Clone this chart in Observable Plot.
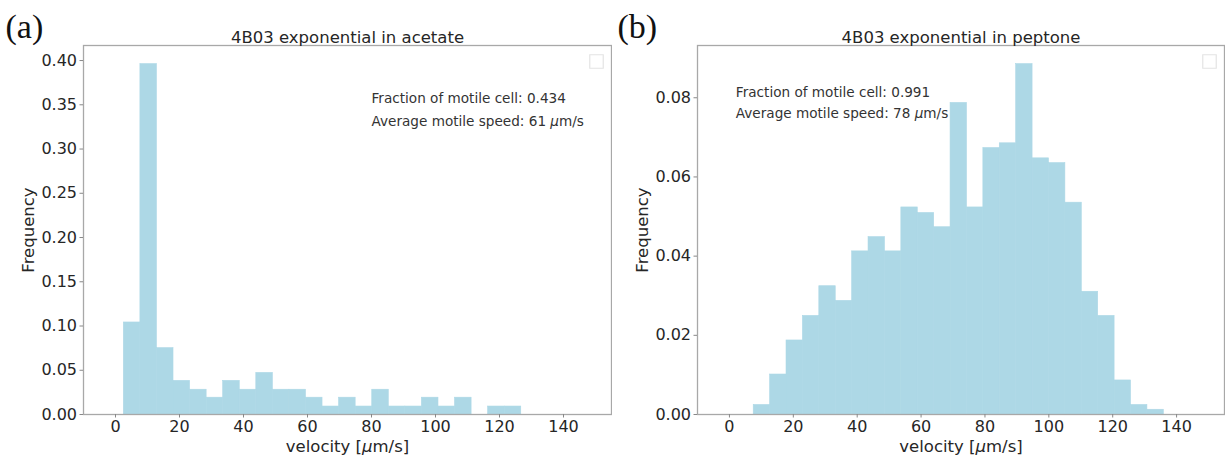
<!DOCTYPE html>
<html><head><meta charset="utf-8">
<script src="https://cdn.jsdelivr.net/npm/d3@7"></script>
<script src="https://cdn.jsdelivr.net/npm/@observablehq/plot@0.6"></script>
<style>
body{margin:0;background:#fff;}
#wrap{position:relative;width:1225px;height:456px;overflow:hidden;background:#fff;}
#a,#b{position:absolute;top:0;}
#a{left:0;} #b{left:612px;}
</style></head><body><div id="wrap"><div id="a"></div><div id="b"></div></div>
<script>
const xTicks = [0, 20, 40, 60, 80, 100, 120, 140];
const yTicksA = [0, 0.05, 0.10, 0.15, 0.20, 0.25, 0.30, 0.35, 0.40];
const yTicksB = [0, 0.02, 0.04, 0.06, 0.08];

const edgesA = [2.6, 7.78, 12.95, 18.13, 23.3, 28.48, 33.65, 38.83, 44.0, 49.18, 54.35, 59.53, 64.7,
  69.88, 75.05, 80.23, 85.4, 90.58, 95.75, 100.93, 106.1, 111.28, 116.45, 121.63, 126.8];
const freqA = [0.104, 0.396, 0.075, 0.038, 0.028, 0.019, 0.038, 0.028, 0.047, 0.028, 0.028, 0.019,
  0.009, 0.019, 0.009, 0.028, 0.009, 0.009, 0.019, 0.009, 0.019, 0, 0.009, 0.009];

const edgesB = [7.6, 12.74, 17.87, 23.01, 28.14, 33.28, 38.42, 43.55, 48.69, 53.82, 58.96, 64.1, 69.23,
  74.37, 79.5, 84.64, 89.78, 94.91, 100.05, 105.18, 110.32, 115.46, 120.59, 125.73, 130.86, 136.0];
const freqB = [0.0024, 0.0101, 0.0187, 0.0249, 0.0324, 0.0287, 0.0412, 0.0448, 0.0412, 0.0523, 0.0509,
  0.0473, 0.0787, 0.0523, 0.0673, 0.0685, 0.0885, 0.0647, 0.0635, 0.0535, 0.0310, 0.0249, 0.0086, 0.0024, 0.0012];

const titles = ["4B03 exponential in acetate", "4B03 exponential in peptone"];
const tags = ["(a)", "(b)"];
const notesA = ["Fraction of motile cell: 0.434", "Average motile speed: 61 μm/s"];
const notesB = ["Fraction of motile cell: 0.991", "Average motile speed: 78 μm/s"];
const xLabel = "velocity [μm/s]";
const yLabel = "Frequency";

function panel(o) {
  const bins = o.freq.map((f, i) => ({x1: o.edges[i], x2: o.edges[i + 1], y: f}));
  return Plot.plot({
    width: o.width, height: 456,
    marginLeft: o.marginLeft, marginRight: 1, marginTop: 45, marginBottom: 42,
    style: {fontFamily: "DejaVu Sans, sans-serif", fontSize: "16px", color: "#262626", background: "white", overflow: "visible"},
    x: {domain: [-10, 155]},
    y: {domain: [0, o.yMax]},
    marks: [
      Plot.rectY(bins, {x1: "x1", x2: "x2", y: "y", fill: "#add8e6", stroke: "#add8e6", strokeWidth: 0.6}),
      Plot.frame({stroke: "#a8a8a8", strokeWidth: 1.3}),
      Plot.axisX({ticks: xTicks, tickSize: 3.5, tickPadding: 3, tickFormat: d => String(d), stroke: "#888",
        label: null}),
      Plot.axisX({ticks: [], label: xLabel, labelAnchor: "center", labelArrow: "none", labelOffset: 37, fontSize: 16.5}),
      Plot.axisY({ticks: o.yTicks, tickSize: 3.5, tickPadding: 3, tickFormat: d3.format(".2f"), stroke: "#888",
        label: null}),
      Plot.axisY({ticks: [], label: yLabel, labelAnchor: "center", labelArrow: "none", labelOffset: 61, fontSize: 16.5}),
      Plot.text([o.title], {frameAnchor: "top", lineAnchor: "middle", dy: -8, text: d => d, fontSize: 16.5}),
      Plot.text([o.tag], {frameAnchor: "top-left", lineAnchor: "middle", textAnchor: "start", dx: o.tagDx, dy: -18,
        fontFamily: "Liberation Serif, serif", fontSize: 34, fill: "#111", text: d => d}),
      Plot.text(o.notes, {x: () => o.noteX, y: (d, i) => o.noteY[i], text: d => d, textAnchor: "start", fontSize: 13.6, fill: "#333"}),
      Plot.dot([0], {frameAnchor: "top-right", dx: -15, dy: 16, symbol: "square", r: 7.6, stroke: "#e4e4e4", strokeWidth: 1.2, fill: "none"})
    ]
  });
}

function italicMu(svg) {
  svg.querySelectorAll("text").forEach(t => {
    if (t.children.length === 0 && t.textContent.includes("μ")) {
      const parts = t.textContent.split("μ");
      t.textContent = "";
      parts.forEach((p, i) => {
        if (i > 0) {
          const s = document.createElementNS("http://www.w3.org/2000/svg", "tspan");
          s.setAttribute("font-style", "italic");
          s.textContent = "μ";
          t.appendChild(s);
        }
        t.appendChild(document.createTextNode(p));
      });
    }
  });
}

const svgA = panel({edges: edgesA, freq: freqA, yMax: 0.417, yTicks: yTicksA, width: 612, marginLeft: 83,
  title: titles[0], tag: tags[0], tagDx: -78, notes: notesA, noteX: 80, noteY: [0.357, 0.331]});
const svgB = panel({edges: edgesB, freq: freqB, yMax: 0.0932, yTicks: yTicksB, width: 613, marginLeft: 85,
  title: titles[1], tag: tags[1], tagDx: -80, notes: notesB, noteX: 2, noteY: [0.0812, 0.0761]});
italicMu(svgA); italicMu(svgB);
document.getElementById("a").appendChild(svgA);
document.getElementById("b").appendChild(svgB);
</script></body></html>
